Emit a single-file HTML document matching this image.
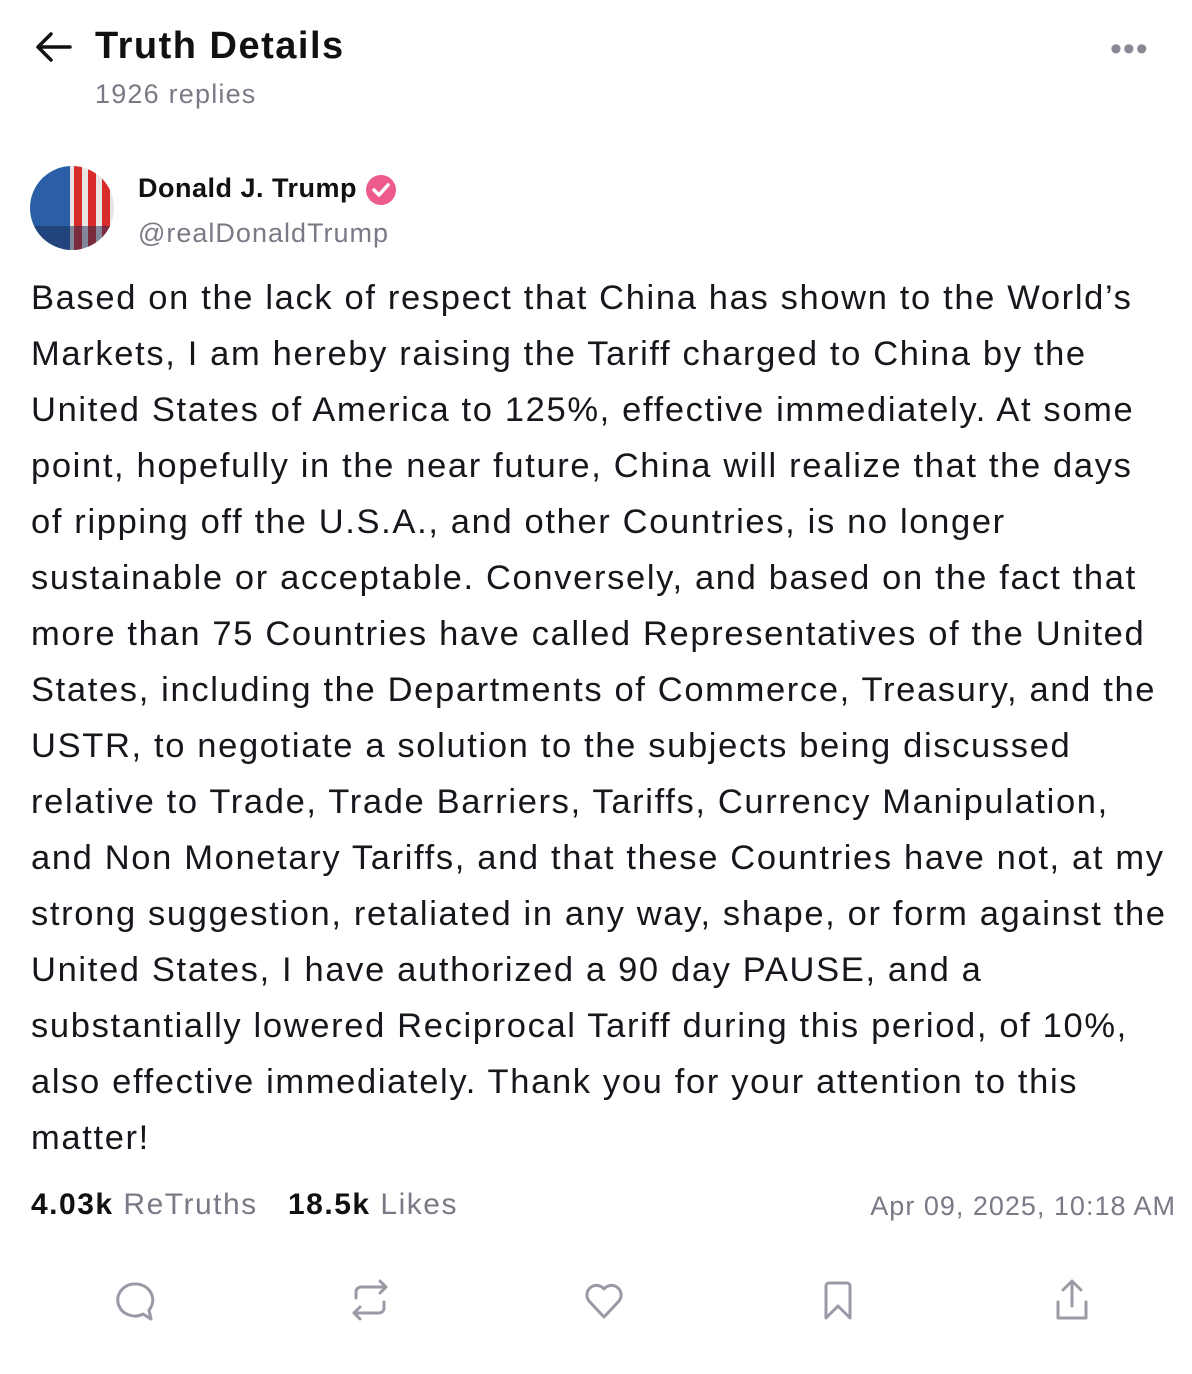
<!DOCTYPE html>
<html><head><meta charset="utf-8"><style>
body{margin:0;width:1192px;height:1374px;background:#fff;font-family:"Liberation Sans",sans-serif;position:relative;overflow:hidden;color:#111}
.a{position:absolute;white-space:nowrap}
.line{position:absolute;left:31px;font-size:34.5px;letter-spacing:1.65px;color:#16161d;white-space:nowrap;line-height:40px}
.g{color:#7a7a86}
</style></head><body>
<svg class="a" style="left:34px;top:30px" width="40" height="34" viewBox="0 0 40 34"><path d="M36 17H4M17 4L4 17l13 13" fill="none" stroke="#111" stroke-width="3.5" stroke-linecap="round" stroke-linejoin="round"/></svg>
<div class="a" style="left:95px;top:25px;font-size:38px;font-weight:bold;letter-spacing:1.5px">Truth Details</div>
<div class="a g" style="left:95px;top:79px;font-size:27px;letter-spacing:1.2px">1926 replies</div>
<div class="a" style="left:1110px;top:30px;font-size:34px;color:#8a8a96;letter-spacing:1px">•••</div>
<svg class="a" style="left:30px;top:166px" width="84" height="84" viewBox="0 0 84 84"><defs><clipPath id="c"><circle cx="42" cy="42" r="42"/></clipPath></defs><g clip-path="url(#c)"><rect width="84" height="84" fill="#e8e4e4"/><rect width="40" height="84" fill="#2a5fa8"/><rect x="44" width="8" height="84" fill="#d92b2b"/><rect x="58" width="8" height="84" fill="#d92b2b"/><rect x="72" width="8" height="84" fill="#d92b2b"/><rect x="0" y="60" width="84" height="24" fill="#1a2a50" opacity=".5"/></g></svg>
<div class="a" style="left:138px;top:173px;font-size:27px;font-weight:bold;letter-spacing:0.5px">Donald J. Trump</div>
<svg class="a" style="left:364px;top:173px" width="34" height="34" viewBox="0 0 34 34"><circle cx="17" cy="17" r="15" fill="#ec5a8e"/><path d="M10 17l5 5 9-10" fill="none" stroke="#fff" stroke-width="3.5" stroke-linecap="round" stroke-linejoin="round"/></svg>
<div class="a g" style="left:138px;top:218px;font-size:27px;letter-spacing:1px">@realDonaldTrump</div>
<div>
<div class="line" style="top:278px">Based on the lack of respect that China has shown to the World’s</div>
<div class="line" style="top:334px">Markets, I am hereby raising the Tariff charged to China by the</div>
<div class="line" style="top:390px">United States of America to 125%, effective immediately. At some</div>
<div class="line" style="top:446px">point, hopefully in the near future, China will realize that the days</div>
<div class="line" style="top:502px">of ripping off the U.S.A., and other Countries, is no longer</div>
<div class="line" style="top:558px">sustainable or acceptable. Conversely, and based on the fact that</div>
<div class="line" style="top:614px">more than 75 Countries have called Representatives of the United</div>
<div class="line" style="top:670px">States, including the Departments of Commerce, Treasury, and the</div>
<div class="line" style="top:726px">USTR, to negotiate a solution to the subjects being discussed</div>
<div class="line" style="top:782px">relative to Trade, Trade Barriers, Tariffs, Currency Manipulation,</div>
<div class="line" style="top:838px">and Non Monetary Tariffs, and that these Countries have not, at my</div>
<div class="line" style="top:894px">strong suggestion, retaliated in any way, shape, or form against the</div>
<div class="line" style="top:950px">United States, I have authorized a 90 day PAUSE, and a</div>
<div class="line" style="top:1006px">substantially lowered Reciprocal Tariff during this period, of 10%,</div>
<div class="line" style="top:1062px">also effective immediately. Thank you for your attention to this</div>
<div class="line" style="top:1118px">matter!</div>
</div>
<div class="a" style="left:31px;top:1188px;font-size:30px;letter-spacing:1.5px"><b>4.03k</b> <span class="g">ReTruths</span></div>
<div class="a" style="left:288px;top:1188px;font-size:30px;letter-spacing:1.5px"><b>18.5k</b> <span class="g">Likes</span></div>
<div class="a g" style="right:16px;top:1191px;font-size:27px;letter-spacing:1px">Apr 09, 2025, 10:18 AM</div>
<svg class="a" style="left:0;top:1270px" width="1192" height="60" viewBox="0 0 1192 60" fill="none" stroke="#9a9aa6" stroke-width="3" stroke-linecap="round" stroke-linejoin="round">
<g><path d="M135 14a17 16 0 1 0 8 30l8 5-2-9a17 16 0 0 0-14-26z"/></g>
<g><path d="M356 28v-6a5 5 0 0 1 5-5h25M380 11l6 6-6 6M384 32v6a5 5 0 0 1-5 5h-25M360 49l-6-6 6-6"/></g>
<g><path d="M604 47l-15-16a9 9 0 0 1 15-12 9 9 0 0 1 15 12z"/></g>
<g><path d="M826 48V16a3 3 0 0 1 3-3h18a3 3 0 0 1 3 3v32l-12-12z"/></g>
<g><path d="M1072 12v24M1063 20l9-9 9 9M1058 32v16h28V32"/></g>
</svg>
</body></html>
